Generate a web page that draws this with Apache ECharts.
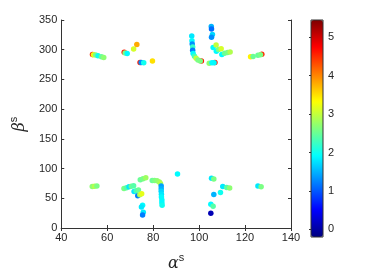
<!DOCTYPE html>
<html>
<head>
<meta charset="utf-8">
<script src="https://cdn.jsdelivr.net/npm/echarts@6/dist/echarts.min.js"></script>
<style>
  html, body { margin: 0; padding: 0; background: #fff; }
  #chart { width: 369px; height: 277px; }
</style>
</head>
<body>
<div id="chart"></div>
<script>
// alpha^s, beta^s and colour value of each point
const alphaS = [
  53.6, 54, 55, 56, 57.5, 58.5,
  67.4, 67.8, 68.7, 71.5, 72.9,
  74.3, 74.8, 75.9, 79.7,
  96.8, 96.9, 97, 97.2, 97.2, 97.4, 98, 98.7, 99.5, 101, 100.5,
  105.3, 105.4, 105.8, 105.4,
  106.1, 107.4, 107.5, 108.5, 109.6, 109.9, 111.1, 112.4, 113.5,
  106.9, 104.4, 105.6, 106.5,
  122.4, 123.5, 127.3, 125.6, 126.7,
  53.5, 54.5, 55.5,
  67.3, 68.4, 69.5, 70.5, 71.5,
  71.7, 72.6, 73.6,
  73.3, 74.2, 75,
  74.4, 75.6, 76.8,
  75.4, 74.9, 75.7, 75.4,
  79.6, 80.6, 81.7, 82.7, 83.2, 83.5, 83.5, 83.5, 83.6, 83.6, 83.8, 83.8, 83.9,
  90.6,
  105.4, 106.4,
  110.3, 112, 113.3,
  106.4, 109.3,
  105.1, 106.1,
  105.1,
  125.6, 127
];
const betaS = [
  292, 291.5, 291, 290, 288, 287,
  295.7, 294.6, 293.6, 301, 308.6,
  278.5, 278.3, 278, 281,
  323, 315, 309.7, 304.4, 299, 293.6, 289.2, 285.5, 282.8, 281, 281,
  339.2, 335, 325.8, 321,
  303.8, 308, 297.3, 300.5, 301.6, 292, 294, 295.2, 296.3,
  278.5, 277.4, 278, 278,
  288.2, 288.7, 292.5, 290.8, 291.4,
  69.9, 70.2, 70.5,
  66.6, 67.8, 69.5, 70.2, 71,
  61.3, 62.5, 64,
  54.3, 56, 57.6,
  81.2, 82.8, 84.4,
  38.2, 35.5, 26.3, 22,
  80.1, 80.1, 79.5, 77.4, 74.7, 70.5, 66.1, 61.8, 57, 52.1, 47.3, 42.4, 38.2,
  90.8,
  83.9, 82.3,
  69.9, 68.3, 67.2,
  56.5, 59.7,
  39.8, 36.6,
  24.7,
  70.5, 69.4
];
const colorVal = [
  4.6, 3.2, 2.6, 2.0, 2.5, 2.7,
  4.6, 2.6, 1.9, 3.1, 3.8,
  4.6, 1.3, 2.0, 3.5,
  1.8, 1.9, 1.3, 2.2, 1.2, 1.9, 2.3, 3.0, 2.6, 4.6, 2.6,
  1.5, 1.1, 1.7, 1.3,
  1.9, 3.0, 1.9, 2.6, 3.1, 1.9, 2.5, 2.6, 2.9,
  4.6, 2.7, 1.9, 1.9,
  3.4, 2.5, 4.5, 2.5, 2.6,
  2.7, 2.9, 2.6,
  2.6, 2.4, 1.8, 2.5, 2.4,
  1.8, 2.3, 2.5,
  1.2, 2.9, 3.2,
  2.5, 2.6, 2.8,
  1.9, 1.8, 1.8, 1.2,
  2.5, 2.6, 2.7, 2.8, 2.9, 1.4, 1.5, 1.7, 1.8, 1.9, 1.9, 1.9, 2.0,
  1.9,
  1.8, 2.6,
  1.8, 2.4, 2.7,
  1.5, 2.0,
  1.9, 2.4,
  0.1,
  1.8, 2.6
];
const xTicks = { min: 40, max: 140, step: 20 };
const yTicks = { min: 0, max: 350, step: 50 };
const cbRange = { min: -0.2, max: 5.45 };

// MATLAB jet colormap
const jet = ['#00007f', '#0000ff', '#007fff', '#00ffff', '#7fff7f', '#ffff00', '#ff7f00', '#ff0000', '#7f0000'];

const points = alphaS.map((a, i) => [a, betaS[i], colorVal[i]]);

const axisColor = '#333';
const textColor = '#262626';
const font = 'Liberation Sans';

const nameRich = {
  a: { fontFamily: 'DejaVu Serif', fontStyle: 'italic', fontSize: 16, color: textColor, lineHeight: 20, verticalAlign: 'bottom' },
  b: { fontFamily: font, fontSize: 11, color: textColor, verticalAlign: 'top', lineHeight: 20 }
};

const chart = echarts.init(document.getElementById('chart'));
chart.setOption({
  animation: false,
  textStyle: { fontFamily: font },
  grid: [
    { left: 52, top: 20, width: 239, height: 217 },
    { left: 311, top: 20, width: 12, height: 217, show: true, borderColor: axisColor, borderWidth: 1, backgroundColor: 'transparent', z: 5 }
  ],
  visualMap: {
    type: 'continuous',
    seriesIndex: 0,
    dimension: 2,
    min: cbRange.min,
    max: cbRange.max,
    inRange: { color: jet },
    calculable: false,
    hoverLink: false,
    text: null,
    left: 311,
    top: 20,
    padding: 0,
    itemWidth: 12,
    itemHeight: 217
  },
  xAxis: [
    {
      gridIndex: 0, type: 'value', min: xTicks.min, max: xTicks.max, interval: xTicks.step,
      axisLine: { lineStyle: { color: axisColor, width: 1 } },
      axisTick: { inside: true, length: 3, lineStyle: { color: axisColor } },
      axisLabel: { color: textColor, fontSize: 11, margin: 4 },
      splitLine: { show: false },
      name: '{a|α}{b|s}', nameLocation: 'middle', nameGap: 24,
      nameTextStyle: { rich: nameRich }
    },
    {
      gridIndex: 0, type: 'value', position: 'top', min: xTicks.min, max: xTicks.max, interval: xTicks.step,
      axisLine: { lineStyle: { color: axisColor, width: 1 } },
      axisTick: { inside: true, length: 3, lineStyle: { color: axisColor } },
      axisLabel: { show: false }, splitLine: { show: false }
    },
    { gridIndex: 1, type: 'value', min: 0, max: 1, show: false }
  ],
  yAxis: [
    {
      gridIndex: 0, type: 'value', min: yTicks.min, max: yTicks.max, interval: yTicks.step,
      axisLine: { show: true, lineStyle: { color: axisColor, width: 1 } },
      axisTick: { show: true, inside: true, length: 3, lineStyle: { color: axisColor } },
      axisLabel: { color: textColor, fontSize: 11, margin: 4 },
      splitLine: { show: false },
      name: '{a|β}{b|s}', nameLocation: 'middle', nameGap: 21, nameRotate: 90,
      nameTextStyle: { rich: nameRich }
    },
    {
      gridIndex: 0, type: 'value', position: 'right', min: yTicks.min, max: yTicks.max, interval: yTicks.step,
      axisLine: { show: true, lineStyle: { color: axisColor, width: 1 } },
      axisTick: { show: true, inside: true, length: 3, lineStyle: { color: axisColor } },
      axisLabel: { show: false }, splitLine: { show: false }
    },
    {
      gridIndex: 1, type: 'value', position: 'right', min: cbRange.min, max: cbRange.max, splitNumber: 5,
      axisLine: { show: false },
      axisTick: { show: true, inside: true, length: 2, lineStyle: { color: axisColor } },
      axisLabel: { color: textColor, fontSize: 11, margin: 5, showMinLabel: false, showMaxLabel: false },
      splitLine: { show: false }
    }
  ],
  series: [
    {
      type: 'scatter',
      xAxisIndex: 0, yAxisIndex: 0,
      symbolSize: 5.5,
      itemStyle: { opacity: 1 },
      data: points
    },
    {
      type: 'scatter',
      xAxisIndex: 2, yAxisIndex: 2,
      data: []
    }
  ]
});
</script>
</body>
</html>
